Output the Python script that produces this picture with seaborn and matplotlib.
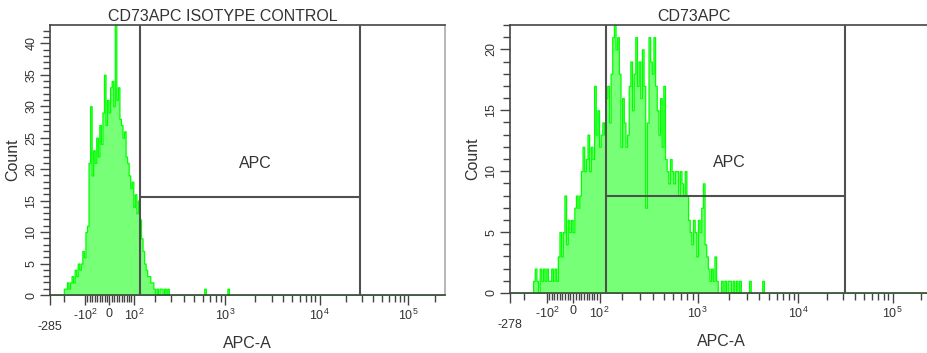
import numpy as np
import pandas as pd
import seaborn as sns
import matplotlib
matplotlib.use("Agg")
import matplotlib.pyplot as plt
from matplotlib.ticker import FixedLocator, MultipleLocator

# --- data: counts per channel (256 channels across the axis), first channel given ---
ISO_TITLE = "CD73APC ISOTYPE CONTROL"
ISO_START = 9
ISO_COUNTS = [
    1, 1, 2, 1, 2, 3, 2, 4, 3, 5, 4, 5, 7, 6, 10, 11,
    21, 30, 19, 23, 21, 25, 22, 27, 24, 29, 35, 27, 31, 29, 33, 34,
    30, 44, 31, 33, 28, 27, 25, 26, 22, 21, 19, 17, 18, 14, 16, 13,
    15, 12, 9, 7, 5, 4, 3, 3, 2, 2, 1, 0, 1, 0, 1, 1,
    0, 1, 0, 1, 0, 0, 0, 0, 0, 0, 0, 0, 0, 0, 0, 0,
    0, 0, 0, 0, 0, 0, 0, 0, 0, 0, 0, 1, 0, 0, 0, 0,
    0, 0, 0, 0, 0, 0, 0, 0, 0, 0, 1,
]
ISO_MIN = -285
ISO_GATE = [127, 28700]
ISO_GATE_LEVEL = 15.6
ISO_YMAX = 42.9

APC_TITLE = "CD73APC"
APC_START = 14
APC_COUNTS = [
    1, 2, 1, 0, 2, 1, 2, 1, 2, 1, 1, 2, 1, 2, 1,
    3, 5, 3, 5, 8, 4, 6, 5, 6, 5, 7, 8, 7, 8,
    10, 12, 10, 11, 13, 10, 12, 11, 17, 13, 15, 12, 13, 14, 13,
    16, 17, 14, 18, 21, 23, 20, 21, 18, 12, 16, 14, 12, 13,
    17, 19, 15, 18, 21, 17, 19, 16, 20, 17, 7, 14,
    21, 19, 18, 21, 17, 15, 13, 16, 12, 17, 11,
    10, 9, 11, 10, 9, 10, 10, 8, 10, 9, 8, 10, 8,
    6, 5, 4, 6, 5, 3, 6, 5, 7, 9, 4, 3, 2, 1, 2, 1, 3,
    1, 0, 0, 1, 0, 1, 0, 1, 1, 0, 1, 0, 1, 0, 1, 0, 0,
    0, 0, 0, 1, 0, 0, 0, 0, 0, 0, 0, 1,
]
APC_MIN = -278
APC_GATE = [125, 31500]
APC_GATE_LEVEL = 8.0
APC_YMAX = 22

GATE_NAME = "APC"
X_LABEL = "APC-A"
Y_LABEL = "Count"

TOP = 262143
N_CHANNELS = 256
DECADES = 4.5
LN10 = np.log(10)


# --- logicle (biexponential) axis ---
def solve_p(w):
    if w <= 0:
        return 1.0
    lo, hi = 1.0, 100.0
    for _ in range(100):
        mid = (lo + hi) / 2
        if 2 * mid * np.log(mid) / (mid + 1) < w:
            lo = mid
        else:
            hi = mid
    return (lo + hi) / 2


def logicle_values(frac, W):
    m = DECADES * LN10
    w = W * LN10
    p = solve_p(w)
    x = np.asarray(frac, dtype=float) * m

    def pos(z):
        return TOP * np.exp(-(m - w)) * (np.exp(z - w) - p**2 * np.exp(-(z - w) / p) + p**2 - 1)

    return np.where(x >= w, pos(x), -pos(2 * w - x))


def solve_width(vmin):
    lo, hi = 0.01, 2.0
    for _ in range(60):
        mid = (lo + hi) / 2
        if logicle_values([0.0], mid)[0] > vmin:
            lo = mid
        else:
            hi = mid
    return (lo + hi) / 2


def make_scale(vmin):
    W = solve_width(vmin)
    grid = np.linspace(-0.05, 1.05, 8001)
    vals = logicle_values(grid, W)

    def fwd(v):
        return np.interp(v, vals, grid)

    def inv(f):
        return np.interp(f, grid, vals)

    return fwd, inv


sns.set_theme(style="ticks")
plt.rcParams["font.family"] = ["Liberation Sans", "DejaVu Sans"]
plt.rcParams["mathtext.fontset"] = "custom"
plt.rcParams["mathtext.rm"] = "Liberation Sans"
plt.rcParams["mathtext.it"] = "Liberation Sans"

TEXT = "#333333"
SPINE = "#444444"

fig = plt.figure(figsize=(9.27, 3.53), dpi=100)
ax_iso = fig.add_axes([0.0539, 0.1643, 0.4261, 0.7649])
ax_apc = fig.add_axes([0.5502, 0.1700, 0.4552, 0.7592])


def draw_panel(ax, title, start, counts, vmin, gate, level, ymax):
    fwd, inv = make_scale(vmin)
    edges = inv(np.linspace(0, 1, N_CHANNELS + 1))
    centers = inv((np.arange(N_CHANNELS) + 0.5) / N_CHANNELS)
    full = np.zeros(N_CHANNELS)
    full[start:start + len(counts)] = counts
    df = pd.DataFrame({"value": centers, "count": full})

    sns.histplot(data=df, x="value", weights="count", bins=edges.tolist(),
                 element="step", fill=True, color="#00ff00", ax=ax)
    for coll in ax.collections:
        coll.set_facecolor("#78ff78")
        coll.set_edgecolor("#00ff00")
        coll.set_alpha(1)
        coll.set_linewidth(0.9)

    ax.set_xscale("function", functions=(fwd, inv))
    ax.set_xlim(vmin, TOP)
    ax.set_ylim(0, ymax)

    # gate
    ax.axvline(gate[0], color="#505050", lw=1.5, zorder=4)
    ax.axvline(gate[1], color="#505050", lw=1.5, zorder=4)
    ax.plot(gate, [level, level], color="#505050", lw=1.5, zorder=4)
    ax.text(0.52, 0.487, GATE_NAME, transform=ax.transAxes, ha="center", va="center",
            fontsize=11.5, color=TEXT)

    # x ticks
    major = [vmin, -100, 0, 100, 1000, 10000, 100000]
    labels = ["\n" + str(vmin), "-$10^{2}$", "0", "$10^{2}$", "$10^{3}$", "$10^{4}$", "$10^{5}$"]
    minor = ([-200] + list(range(-90, 0, 10)) + list(range(10, 100, 10))
             + list(range(200, 1000, 100)) + list(range(2000, 10000, 1000))
             + list(range(20000, 100000, 10000)) + [200000])
    ax.xaxis.set_major_locator(FixedLocator(major))
    ax.set_xticklabels(labels)
    ax.xaxis.set_minor_locator(FixedLocator(minor))

    ax.yaxis.set_major_locator(MultipleLocator(5))
    ax.yaxis.set_minor_locator(MultipleLocator(1))

    ax.tick_params(axis="both", which="major", direction="out", length=7, width=1,
                   color=SPINE, labelsize=9, labelcolor=TEXT, pad=2)
    ax.tick_params(axis="both", which="minor", direction="out", length=5, width=1, color=SPINE)
    for lab in ax.get_yticklabels():
        lab.set_rotation(90)
        lab.set_va("center")

    for side in ["left", "bottom", "top", "right"]:
        ax.spines[side].set_visible(True)
        ax.spines[side].set_color(SPINE)
        ax.spines[side].set_linewidth(1.2)
    ax.spines["right"].set_color("#aaaaaa")

    ax.set_xlabel(X_LABEL, fontsize=11.5, color=TEXT, labelpad=2)
    ax.set_ylabel(Y_LABEL, fontsize=11.5, color=TEXT, labelpad=4)
    ax.set_title(title, x=0.437, fontsize=11.5, color=TEXT, pad=3)
    ax.grid(False)


draw_panel(ax_iso, ISO_TITLE, ISO_START, ISO_COUNTS, ISO_MIN, ISO_GATE, ISO_GATE_LEVEL, ISO_YMAX)
draw_panel(ax_apc, APC_TITLE, APC_START, APC_COUNTS, APC_MIN, APC_GATE, APC_GATE_LEVEL, APC_YMAX)

plt.savefig("out.png", dpi=100)
